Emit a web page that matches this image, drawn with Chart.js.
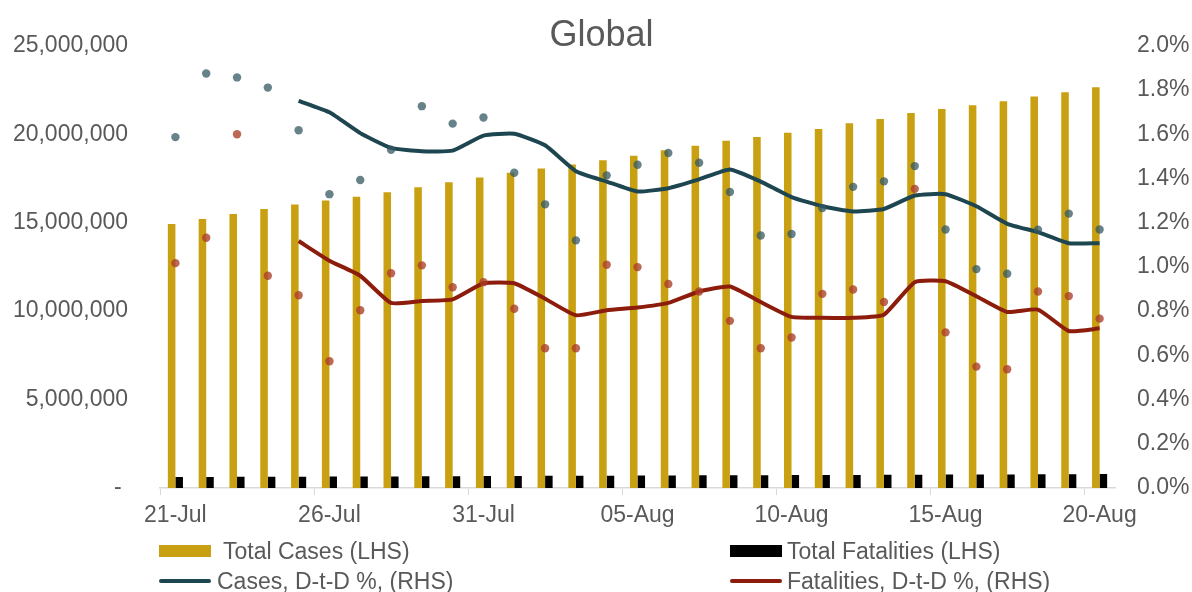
<!DOCTYPE html>
<html>
<head>
<meta charset="utf-8">
<title>Global</title>
<script src="https://cdn.jsdelivr.net/npm/chart.js@4/dist/chart.umd.min.js"></script>
<style>
    body { margin: 0; background: #fff; }
    #wrap { position: relative; width: 1192px; height: 592px; overflow: hidden; }
    #legend { position: absolute; left: 0; top: 0; width: 1192px; height: 592px; pointer-events: none;
              font-family: 'Liberation Sans', Arial, sans-serif; font-size: 23px; color: #595959; }
    .lg-sym { position: absolute; }
    .lg-txt { position: absolute; line-height: 27px; white-space: nowrap; }
</style>
</head>
<body>
<div id="wrap">
    <canvas id="chart" width="1192" height="592"></canvas>
    <div id="legend"></div>
</div>
<script>
const dates = ['21-Jul', '22-Jul', '23-Jul', '24-Jul', '25-Jul', '26-Jul', '27-Jul', '28-Jul', '29-Jul', '30-Jul', '31-Jul',
    '01-Aug', '02-Aug', '03-Aug', '04-Aug', '05-Aug', '06-Aug', '07-Aug', '08-Aug', '09-Aug', '10-Aug',
    '11-Aug', '12-Aug', '13-Aug', '14-Aug', '15-Aug', '16-Aug', '17-Aug', '18-Aug', '19-Aug', '20-Aug'];

const totalCases = [14930000, 15210000, 15490000, 15770000, 16030000, 16260000, 16460000, 16720000, 17000000, 17280000,
    17560000, 17820000, 18060000, 18290000, 18530000, 18790000, 19090000, 19350000, 19630000, 19840000,
    20080000, 20300000, 20620000, 20860000, 21200000, 21420000, 21640000, 21870000, 22130000, 22370000, 22650000];

const totalFatalities = [618000, 623000, 629000, 635000, 640000, 645000, 650000, 656000, 662000, 668000,
    674000, 680000, 686000, 692000, 697000, 702000, 708000, 714000, 720000, 726000,
    732000, 737000, 741000, 747000, 753000, 759000, 765000, 770000, 775000, 781000, 787000];

// daily growth, %
const casesDaily = [1.587, 1.875, 1.857, 1.811, 1.618, 1.329, 1.393, 1.530, 1.727, 1.648,
    1.676, 1.426, 1.283, 1.120, 1.414, 1.462, 1.515, 1.471, 1.339, 1.142,
    1.149, 1.266, 1.362, 1.387, 1.456, 1.169, 0.990, 0.969, 1.168, 1.241, 1.169];

const fatalitiesDaily = [1.017, 1.132, 1.600, 0.960, 0.872, 0.573, 0.804, 0.971, 1.007, 0.908,
    0.931, 0.811, 0.632, 0.632, 1.010, 0.999, 0.923, 0.889, 0.756, 0.632,
    0.681, 0.878, 0.898, 0.841, 1.353, 0.704, 0.549, 0.537, 0.889, 0.868, 0.766];

// averaged growth lines, %
const casesAvg = [null, null, null, null, 1.751, 1.699, 1.605, 1.538, 1.523, 1.526,
    1.594, 1.602, 1.550, 1.433, 1.386, 1.341, 1.356, 1.396, 1.441, 1.386,
    1.316, 1.274, 1.251, 1.262, 1.323, 1.329, 1.274, 1.195, 1.157, 1.107, 1.107];

const fatalitiesAvg = [null, null, null, null, 1.117, 1.028, 0.960, 0.837, 0.846, 0.853,
    0.926, 0.926, 0.856, 0.781, 0.804, 0.816, 0.837, 0.889, 0.911, 0.841,
    0.774, 0.770, 0.770, 0.784, 0.931, 0.935, 0.867, 0.796, 0.807, 0.710, 0.722];

const leftTicks = [0, 5000000, 10000000, 15000000, 20000000, 25000000];
const rightTicks = [0, 0.2, 0.4, 0.6, 0.8, 1.0, 1.2, 1.4, 1.6, 1.8, 2.0];

document.addEventListener('DOMContentLoaded', function() {
    const font = 'Liberation Sans, Arial, sans-serif';
    const grey = '#595959';

    const chart = new Chart(document.getElementById('chart'), {
        type: 'bar',
        data: {
            labels: dates,
            datasets: [
                {
                    type: 'line',
                    label: 'Cases, D-t-D %, (RHS)',
                    data: casesAvg,
                    yAxisID: 'y1',
                    borderColor: '#1d4650',
                    borderWidth: 4,
                    pointRadius: 0,
                    tension: 0.15,
                    order: 1
                },
                {
                    type: 'line',
                    label: 'Fatalities, D-t-D %, (RHS)',
                    data: fatalitiesAvg,
                    yAxisID: 'y1',
                    borderColor: '#8c1c0b',
                    borderWidth: 4,
                    pointRadius: 0,
                    tension: 0.15,
                    order: 1
                },
                {
                    type: 'line',
                    label: 'Cases daily',
                    data: casesDaily,
                    yAxisID: 'y1',
                    showLine: false,
                    pointRadius: 4.2,
                    pointBorderWidth: 0,
                    pointBackgroundColor: 'rgba(52, 88, 96, 0.75)',
                    order: 0
                },
                {
                    type: 'line',
                    label: 'Fatalities daily',
                    data: fatalitiesDaily,
                    yAxisID: 'y1',
                    showLine: false,
                    pointRadius: 4.2,
                    pointBorderWidth: 0,
                    pointBackgroundColor: 'rgba(170, 62, 40, 0.78)',
                    order: 0
                },
                {
                    label: 'Total Cases (LHS)',
                    data: totalCases,
                    yAxisID: 'y',
                    backgroundColor: '#c9a012',
                    categoryPercentage: 0.49,
                    barPercentage: 1,
                    order: 2
                },
                {
                    label: 'Total Fatalities (LHS)',
                    data: totalFatalities,
                    yAxisID: 'y',
                    backgroundColor: '#000000',
                    categoryPercentage: 0.49,
                    barPercentage: 1,
                    order: 2
                }
            ]
        },
        options: {
            responsive: false,
            animation: false,
            layout: {
                padding: { left: 13, right: 2, top: 0, bottom: 58 }
            },
            scales: {
                x: {
                    afterFit: (axis) => { axis.height = 46; },
                    grid: {
                        drawOnChartArea: false,
                        tickLength: 7,
                        color: (ctx) => ctx.index % 5 === 0 ? '#d9d9d9' : 'rgba(0,0,0,0)'
                    },
                    border: { color: '#d9d9d9', width: 1.5 },
                    ticks: {
                        autoSkip: false,
                        maxRotation: 0,
                        padding: 7,
                        color: grey,
                        font: { family: font, size: 23 },
                        callback: function(value, index) {
                            return index % 5 === 0 ? dates[index] : '';
                        }
                    }
                },
                y: {
                    position: 'left',
                    min: 0,
                    max: 25000000,
                    afterBuildTicks: (axis) => { axis.ticks = leftTicks.map(v => ({ value: v })); },
                    afterFit: (axis) => { axis.width = 147; },
                    grid: { display: false, drawTicks: false },
                    border: { display: false },
                    ticks: {
                        padding: 32,
                        color: grey,
                        font: { family: font, size: 23 },
                        callback: (v) => v === 0 ? '- ' : v.toLocaleString('en-US')
                    }
                },
                y1: {
                    position: 'right',
                    min: 0,
                    max: 2.0,
                    afterBuildTicks: (axis) => { axis.ticks = rightTicks.map(v => ({ value: v })); },
                    afterFit: (axis) => { axis.width = 75; },
                    grid: { display: false, drawTicks: false },
                    border: { display: false },
                    ticks: {
                        padding: 22,
                        color: grey,
                        font: { family: font, size: 23 },
                        callback: (v) => v.toFixed(1) + '%'
                    }
                }
            },
            plugins: {
                legend: { display: false },
                tooltip: { enabled: false },
                title: {
                    display: true,
                    text: 'Global',
                    color: grey,
                    font: { family: font, size: 36, weight: 'normal' },
                    padding: { top: 10, bottom: -12 }
                }
            }
        }
    });

    // legend laid out in two columns like the original
    const legendItems = [
        { ds: 4, kind: 'box', symX: 159, textX: 223, row: 0 },
        { ds: 5, kind: 'box', symX: 730, textX: 787, row: 0 },
        { ds: 0, kind: 'line', symX: 159, textX: 217, row: 1 },
        { ds: 1, kind: 'line', symX: 730, textX: 787, row: 1 }
    ];
    const rowCenter = [551, 581];
    const legend = document.getElementById('legend');

    legendItems.forEach(function(item) {
        const ds = chart.data.datasets[item.ds];
        const sym = document.createElement('div');
        sym.className = 'lg-sym';
        const h = item.kind === 'box' ? 12 : 4;
        sym.style.left = item.symX + 'px';
        sym.style.top = (rowCenter[item.row] - h / 2) + 'px';
        sym.style.width = '52px';
        sym.style.height = h + 'px';
        sym.style.borderRadius = item.kind === 'line' ? '2px' : '0';
        sym.style.background = item.kind === 'box' ? ds.backgroundColor : ds.borderColor;
        legend.appendChild(sym);

        const txt = document.createElement('div');
        txt.className = 'lg-txt';
        txt.style.left = item.textX + 'px';
        txt.style.top = (rowCenter[item.row] - 13) + 'px';
        txt.textContent = ds.label;
        legend.appendChild(txt);
    });
});
</script>
</body>
</html>
